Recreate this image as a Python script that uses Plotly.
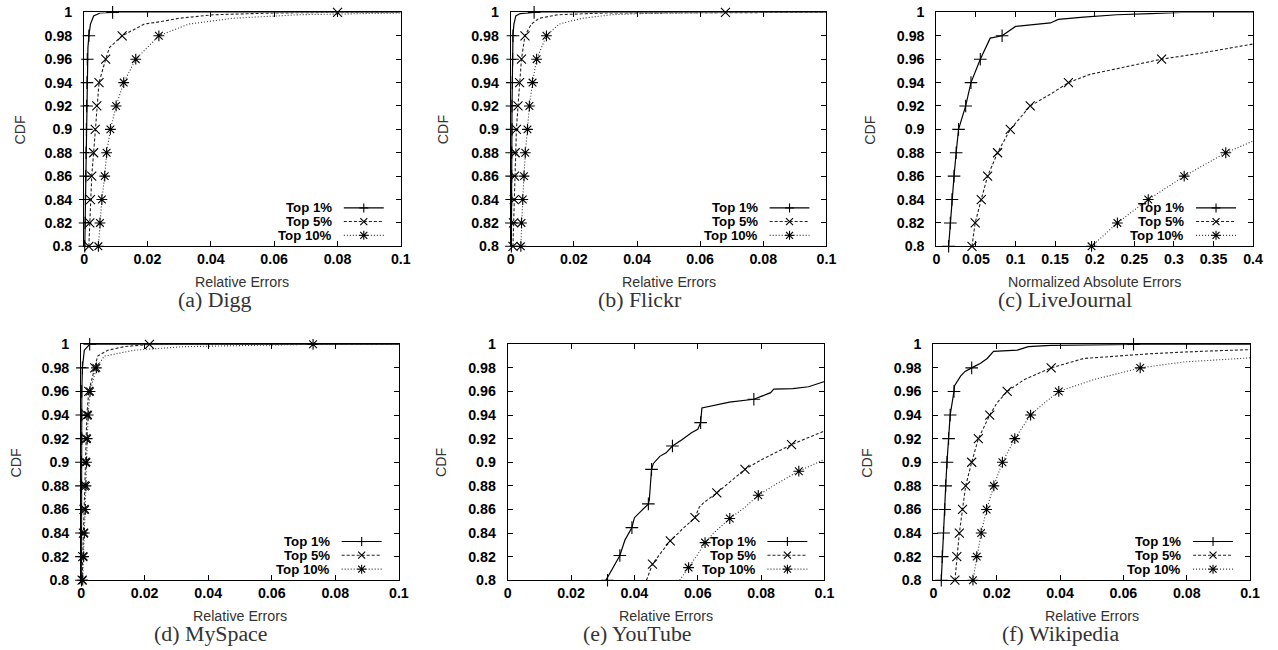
import plotly.graph_objects as go

# ---------------- data ----------------
cdf_levels = [0.8, 0.82, 0.84, 0.86, 0.88, 0.9, 0.92, 0.94, 0.96, 0.98]
y_ticks = [0.8, 0.82, 0.84, 0.86, 0.88, 0.9, 0.92, 0.94, 0.96, 0.98, 1.0]
y_tick_text = ["0.8", "0.82", "0.84", "0.86", "0.88", "0.9", "0.92", "0.94", "0.96", "0.98", "1"]
x_ticks_small = [0, 0.02, 0.04, 0.06, 0.08, 0.1]
x_tick_text_small = ["0", "0.02", "0.04", "0.06", "0.08", "0.1"]
x_ticks_lj = [0, 0.05, 0.1, 0.15, 0.2, 0.25, 0.3, 0.35, 0.4]
x_tick_text_lj = ["0", "0.05", "0.1", "0.15", "0.2", "0.25", "0.3", "0.35", "0.4"]
series_names = ["Top 1%", "Top 5%", "Top 10%"]

# (a) Digg
digg_1_x = [0.0002, 0.0003, 0.0004, 0.0005, 0.0006, 0.0007, 0.0008, 0.0009, 0.001, 0.0012, 0.0015, 0.002, 0.003, 0.005, 0.009, 0.1]
digg_1_y = [0.8, 0.82, 0.84, 0.86, 0.88, 0.9, 0.92, 0.94, 0.96, 0.97, 0.98, 0.99, 0.997, 0.9995, 1.0, 1.0]
digg_1_mx = [0.0002, 0.0003, 0.0004, 0.0005, 0.0006, 0.0007, 0.0008, 0.0009, 0.001, 0.0015, 0.009]
digg_1_my = [0.8, 0.82, 0.84, 0.86, 0.88, 0.9, 0.92, 0.94, 0.96, 0.98, 1.0]
digg_5_x = [0.0015, 0.0018, 0.002, 0.0024, 0.003, 0.0035, 0.004, 0.0047, 0.0068, 0.008, 0.012, 0.019, 0.024, 0.03, 0.041, 0.06, 0.08, 0.1]
digg_5_y = [0.8, 0.82, 0.84, 0.86, 0.88, 0.9, 0.92, 0.94, 0.96, 0.97, 0.98, 0.99, 0.992, 0.995, 0.998, 0.9995, 1.0, 1.0]
digg_5_mx = [0.0015, 0.0018, 0.002, 0.0024, 0.003, 0.0035, 0.004, 0.0047, 0.0068, 0.012, 0.08]
digg_5_my = [0.8, 0.82, 0.84, 0.86, 0.88, 0.9, 0.92, 0.94, 0.96, 0.98, 1.0]
digg_10_x = [0.0045, 0.005, 0.0056, 0.0065, 0.0071, 0.0083, 0.0101, 0.0125, 0.0163, 0.0236, 0.033, 0.047, 0.068, 0.1]
digg_10_y = [0.8, 0.82, 0.84, 0.86, 0.88, 0.9, 0.92, 0.94, 0.96, 0.98, 0.99, 0.995, 0.998, 0.9995]
digg_10_mx = [0.0045, 0.005, 0.0056, 0.0065, 0.0071, 0.0083, 0.0101, 0.0125, 0.0163, 0.0236]
digg_10_my = cdf_levels

# (b) Flickr
flickr_1_x = [0.0002, 0.0002, 0.0003, 0.0003, 0.0003, 0.0004, 0.0004, 0.0005, 0.0006, 0.0007, 0.001, 0.0016, 0.003, 0.0074, 0.1]
flickr_1_y = [0.8, 0.82, 0.84, 0.86, 0.88, 0.9, 0.92, 0.94, 0.96, 0.98, 0.99, 0.997, 0.999, 1.0, 1.0]
flickr_1_mx = [0.0002, 0.0002, 0.0003, 0.0003, 0.0003, 0.0004, 0.0004, 0.0005, 0.0006, 0.0007, 0.0074]
flickr_1_my = [0.8, 0.82, 0.84, 0.86, 0.88, 0.9, 0.92, 0.94, 0.96, 0.98, 1.0]
flickr_5_x = [0.0007, 0.0009, 0.0011, 0.0012, 0.0014, 0.0018, 0.0023, 0.0028, 0.0034, 0.0045, 0.0065, 0.009, 0.015, 0.03, 0.068, 0.1]
flickr_5_y = [0.8, 0.82, 0.84, 0.86, 0.88, 0.9, 0.92, 0.94, 0.96, 0.98, 0.99, 0.995, 0.998, 0.9995, 1.0, 1.0]
flickr_5_mx = [0.0007, 0.0009, 0.0011, 0.0012, 0.0014, 0.0018, 0.0023, 0.0028, 0.0034, 0.0045, 0.068]
flickr_5_my = [0.8, 0.82, 0.84, 0.86, 0.88, 0.9, 0.92, 0.94, 0.96, 0.98, 1.0]
flickr_10_x = [0.0032, 0.0034, 0.0038, 0.0042, 0.0046, 0.0053, 0.0059, 0.0069, 0.0082, 0.0113, 0.0153, 0.0227, 0.032, 0.042, 0.07, 0.1]
flickr_10_y = [0.8, 0.82, 0.84, 0.86, 0.88, 0.9, 0.92, 0.94, 0.96, 0.98, 0.99, 0.995, 0.998, 0.999, 1.0, 1.0]
flickr_10_mx = [0.0032, 0.0034, 0.0038, 0.0042, 0.0046, 0.0053, 0.0059, 0.0069, 0.0082, 0.0113]
flickr_10_my = cdf_levels

# (c) LiveJournal
lj_1_x = [0.0155, 0.0176, 0.0197, 0.0223, 0.025, 0.028, 0.037, 0.0437, 0.0555, 0.062, 0.068, 0.083, 0.093, 0.1, 0.144, 0.154, 0.186, 0.228, 0.27, 0.31, 0.4]
lj_1_y = [0.8, 0.82, 0.84, 0.86, 0.88, 0.9, 0.92, 0.94, 0.96, 0.97, 0.978, 0.98, 0.985, 0.988, 0.991, 0.994, 0.996, 0.998, 0.999, 1.0, 1.0]
lj_1_mx = [0.0155, 0.0176, 0.0197, 0.0223, 0.025, 0.028, 0.037, 0.0437, 0.0555, 0.083]
lj_1_my = cdf_levels
lj_5_x = [0.045, 0.049, 0.0567, 0.0647, 0.0773, 0.0933, 0.106, 0.1185, 0.144, 0.1668, 0.194, 0.249, 0.2845, 0.333, 0.375, 0.4]
lj_5_y = [0.8, 0.82, 0.84, 0.86, 0.88, 0.9, 0.91, 0.92, 0.93, 0.94, 0.947, 0.955, 0.96, 0.965, 0.97, 0.973]
lj_5_mx = [0.045, 0.049, 0.0567, 0.0647, 0.0773, 0.0933, 0.1185, 0.1668, 0.2845]
lj_5_my = [0.8, 0.82, 0.84, 0.86, 0.88, 0.9, 0.92, 0.94, 0.96]
lj_10_x = [0.196, 0.2286, 0.2676, 0.313, 0.3655, 0.4]
lj_10_y = [0.8, 0.82, 0.84, 0.86, 0.88, 0.89]
lj_10_mx = [0.196, 0.2286, 0.2676, 0.313, 0.3655]
lj_10_my = [0.8, 0.82, 0.84, 0.86, 0.88]

# (d) MySpace
ms_1_x = [0.0001, 0.0001, 0.0001, 0.0001, 0.0001, 0.0001, 0.0002, 0.0002, 0.0002, 0.0004, 0.001, 0.0027, 0.1]
ms_1_y = [0.8, 0.82, 0.84, 0.86, 0.88, 0.9, 0.92, 0.94, 0.96, 0.98, 0.995, 1.0, 1.0]
ms_1_mx = [0.0001, 0.0001, 0.0001, 0.0001, 0.0001, 0.0001, 0.0002, 0.0002, 0.0002, 0.0004, 0.0027]
ms_1_my = [0.8, 0.82, 0.84, 0.86, 0.88, 0.9, 0.92, 0.94, 0.96, 0.98, 1.0]
ms_5_x = [0.0003, 0.0005, 0.0007, 0.0009, 0.001, 0.0013, 0.0015, 0.0018, 0.0024, 0.0043, 0.0052, 0.0084, 0.0136, 0.0215, 0.1]
ms_5_y = [0.8, 0.82, 0.84, 0.86, 0.88, 0.9, 0.92, 0.94, 0.96, 0.98, 0.99, 0.995, 0.998, 1.0, 1.0]
ms_5_mx = [0.0003, 0.0005, 0.0007, 0.0009, 0.001, 0.0013, 0.0015, 0.0018, 0.0024, 0.0043, 0.0215]
ms_5_my = [0.8, 0.82, 0.84, 0.86, 0.88, 0.9, 0.92, 0.94, 0.96, 0.98, 1.0]
ms_10_x = [0.0005, 0.0008, 0.001, 0.0013, 0.0015, 0.0017, 0.0019, 0.0022, 0.0028, 0.0048, 0.0073, 0.0168, 0.0325, 0.073, 0.1]
ms_10_y = [0.8, 0.82, 0.84, 0.86, 0.88, 0.9, 0.92, 0.94, 0.96, 0.98, 0.99, 0.995, 0.998, 1.0, 1.0]
ms_10_mx = [0.0005, 0.0008, 0.001, 0.0013, 0.0015, 0.0017, 0.0019, 0.0022, 0.0028, 0.0048, 0.073]
ms_10_my = [0.8, 0.82, 0.84, 0.86, 0.88, 0.9, 0.92, 0.94, 0.96, 0.98, 1.0]

# (e) YouTube
yt_1_x = [0.031, 0.033, 0.0354, 0.037, 0.0385, 0.0392, 0.04, 0.042, 0.0444, 0.0447, 0.0452, 0.0454, 0.046, 0.048, 0.05, 0.052, 0.055, 0.058, 0.06, 0.0609, 0.0613, 0.065, 0.07, 0.0777, 0.08, 0.083, 0.084, 0.09, 0.095, 0.1]
yt_1_y = [0.8, 0.81, 0.821, 0.834, 0.842, 0.8446, 0.853, 0.858, 0.8647, 0.868, 0.89, 0.894, 0.899, 0.905, 0.908, 0.9138, 0.919, 0.925, 0.928, 0.9336, 0.946, 0.948, 0.951, 0.9534, 0.956, 0.959, 0.962, 0.9625, 0.964, 0.9685]
yt_1_mx = [0.0315, 0.0354, 0.0392, 0.0444, 0.0454, 0.052, 0.0609, 0.0777]
yt_1_my = [0.8, 0.821, 0.8446, 0.8647, 0.894, 0.9138, 0.9336, 0.9534]
yt_5_x = [0.0438, 0.0457, 0.048, 0.0513, 0.055, 0.0591, 0.0605, 0.062, 0.066, 0.07, 0.0725, 0.0749, 0.08, 0.085, 0.0896, 0.095, 0.1]
yt_5_y = [0.8, 0.8136, 0.822, 0.8333, 0.843, 0.8531, 0.862, 0.866, 0.874, 0.883, 0.889, 0.894, 0.902, 0.909, 0.915, 0.921, 0.9265]
yt_5_mx = [0.0457, 0.0513, 0.0591, 0.066, 0.0749, 0.0896]
yt_5_my = [0.8136, 0.8333, 0.8531, 0.874, 0.894, 0.915]
yt_10_x = [0.0543, 0.0571, 0.06, 0.0623, 0.065, 0.0701, 0.075, 0.0791, 0.085, 0.0919, 0.1]
yt_10_y = [0.8, 0.8107, 0.822, 0.8319, 0.84, 0.8523, 0.862, 0.872, 0.882, 0.8924, 0.9025]
yt_10_mx = [0.0571, 0.0623, 0.0701, 0.0791, 0.0919]
yt_10_my = [0.8107, 0.8319, 0.8523, 0.872, 0.8924]

# (f) Wikipedia
wk_1_x = [0.0025, 0.0028, 0.0032, 0.0036, 0.0039, 0.0043, 0.0048, 0.0053, 0.0065, 0.0067, 0.0086, 0.01, 0.0121, 0.0149, 0.017, 0.019, 0.0265, 0.03, 0.037, 0.0632, 0.1]
wk_1_y = [0.8, 0.82, 0.84, 0.86, 0.88, 0.9, 0.92, 0.94, 0.96, 0.965, 0.973, 0.977, 0.98, 0.984, 0.988, 0.994, 0.995, 0.998, 0.999, 1.0, 1.0]
wk_1_mx = [0.0025, 0.0028, 0.0032, 0.0036, 0.0039, 0.0043, 0.0048, 0.0053, 0.0065, 0.0121, 0.0632]
wk_1_my = [0.8, 0.82, 0.84, 0.86, 0.88, 0.9, 0.92, 0.94, 0.96, 0.98, 1.0]
wk_5_x = [0.0068, 0.0074, 0.0082, 0.0092, 0.0102, 0.0121, 0.0142, 0.0178, 0.02, 0.0233, 0.0286, 0.0372, 0.0433, 0.0475, 0.058, 0.0685, 0.084, 0.1]
wk_5_y = [0.8, 0.82, 0.84, 0.86, 0.88, 0.9, 0.92, 0.94, 0.95, 0.96, 0.97, 0.98, 0.985, 0.988, 0.99, 0.992, 0.994, 0.9955]
wk_5_mx = [0.0068, 0.0074, 0.0082, 0.0092, 0.0102, 0.0121, 0.0142, 0.0178, 0.0233, 0.0372]
wk_5_my = cdf_levels
wk_10_x = [0.0125, 0.0137, 0.0151, 0.0168, 0.0191, 0.0218, 0.0257, 0.0307, 0.0349, 0.0396, 0.0506, 0.0653, 0.079, 0.1]
wk_10_y = [0.8, 0.82, 0.84, 0.86, 0.88, 0.9, 0.92, 0.94, 0.95, 0.96, 0.97, 0.98, 0.985, 0.9885]
wk_10_mx = [0.0125, 0.0137, 0.0151, 0.0168, 0.0191, 0.0218, 0.0257, 0.0307, 0.0396, 0.0653]
wk_10_my = cdf_levels

captions = ["(a) Digg", "(b) Flickr", "(c) LiveJournal", "(d) MySpace", "(e) YouTube", "(f) Wikipedia"]
x_titles = ["Relative Errors", "Relative Errors", "Normalized Absolute Errors",
            "Relative Errors", "Relative Errors", "Relative Errors"]
y_title = "CDF"

panels = [
    [(digg_1_x, digg_1_y, digg_1_mx, digg_1_my), (digg_5_x, digg_5_y, digg_5_mx, digg_5_my), (digg_10_x, digg_10_y, digg_10_mx, digg_10_my)],
    [(flickr_1_x, flickr_1_y, flickr_1_mx, flickr_1_my), (flickr_5_x, flickr_5_y, flickr_5_mx, flickr_5_my), (flickr_10_x, flickr_10_y, flickr_10_mx, flickr_10_my)],
    [(lj_1_x, lj_1_y, lj_1_mx, lj_1_my), (lj_5_x, lj_5_y, lj_5_mx, lj_5_my), (lj_10_x, lj_10_y, lj_10_mx, lj_10_my)],
    [(ms_1_x, ms_1_y, ms_1_mx, ms_1_my), (ms_5_x, ms_5_y, ms_5_mx, ms_5_my), (ms_10_x, ms_10_y, ms_10_mx, ms_10_my)],
    [(yt_1_x, yt_1_y, yt_1_mx, yt_1_my), (yt_5_x, yt_5_y, yt_5_mx, yt_5_my), (yt_10_x, yt_10_y, yt_10_mx, yt_10_my)],
    [(wk_1_x, wk_1_y, wk_1_mx, wk_1_my), (wk_5_x, wk_5_y, wk_5_mx, wk_5_my), (wk_10_x, wk_10_y, wk_10_mx, wk_10_my)],
]

# ---------------- layout / style ----------------
# The photographed page shows the figure offset by the page margin and slightly
# scaled; target positions (in final-picture pixels) are mapped to figure pixels.
W, H = 1286, 658
SX, OX = 0.99, 2.8
SY, OY = 0.976, 7.6


def fig_x(T):
    return (T - OX) / SX


def fig_y(T):
    return (T - OY) / SY


def px(T):
    return fig_x(T) / W


def py(T):
    return 1 - fig_y(T) / H


FS = 1.0 / 0.983  # font compensation

# plot areas in target pixels: (left, right, top, bottom)
boxes = [(83, 400, 12, 246), (510, 826, 12, 246), (936, 1253, 12, 246),
         (80, 398, 344, 580), (507, 824, 344, 580), (933, 1250, 344, 580)]
caption_cx = [214, 639, 1065, 210, 637, 1060]
cdf_label_x = [19, 443, 870, 15, 440, 867]

line_styles = [dict(color="#000000", width=1.2, dash="solid"),
               dict(color="#222222", width=1.1, dash="3px,2px"),
               dict(color="#333333", width=1.1, dash="1px,2px")]
marker_symbols = ["cross-thin", "x-thin", "asterisk"]
marker_sizes = [9, 9, 9]

TICK_FONT = dict(family="Liberation Sans, Arial, sans-serif", size=14 * FS, color="#000000", weight="bold")
KEY_FONT = dict(family="Liberation Sans, Arial, sans-serif", size=13 * FS, color="#000000", weight="bold")
LABEL_FONT = dict(family="Liberation Sans, Arial, sans-serif", size=14 * FS, color="#333333")
CAP_FONT = dict(family="Liberation Serif, Times New Roman, serif", size=21.5 * FS, color="#333333")

fig = go.Figure()
layout = dict(width=W, height=H, autosize=False, margin=dict(l=0, r=0, t=0, b=0, pad=0),
              paper_bgcolor="white", plot_bgcolor="white", showlegend=False)
annotations = []
shapes = []

for i, (box, series) in enumerate(zip(boxes, panels)):
    left, right, top, bottom = box
    n = "" if i == 0 else str(i + 1)
    xa, ya = "x" + n, "y" + n
    is_lj = (i == 2)
    xr = [0, 0.4] if is_lj else [0, 0.1]
    xt = x_ticks_lj if is_lj else x_ticks_small
    xtt = x_tick_text_lj if is_lj else x_tick_text_small

    layout["xaxis" + n] = dict(domain=[px(left), px(right)], range=xr, anchor=ya,
                               tickvals=xt, ticktext=xtt, ticks="inside", ticklen=5,
                               tickcolor="#000", showline=True, linecolor="#000", linewidth=1,
                               mirror="ticks", showgrid=False, zeroline=False,
                               tickfont=TICK_FONT, ticklabelstandoff=0, fixedrange=True)
    layout["yaxis" + n] = dict(domain=[py(bottom), py(top)], range=[0.8, 1.0], anchor=xa,
                               tickvals=y_ticks, ticktext=y_tick_text, ticks="inside", ticklen=5,
                               tickcolor="#000", showline=True, linecolor="#000", linewidth=1,
                               mirror="ticks", showgrid=False, zeroline=False,
                               tickfont=TICK_FONT, ticklabelstandoff=8, fixedrange=True)

    for k, (lx, ly, mx, my) in enumerate(series):
        fig.add_trace(go.Scatter(x=lx, y=ly, mode="lines", line=line_styles[k], xaxis=xa, yaxis=ya,
                                 name=series_names[k], hoverinfo="skip", cliponaxis=True))
        fig.add_trace(go.Scatter(x=mx, y=my, mode="markers", xaxis=xa, yaxis=ya, name=series_names[k],
                                 marker=dict(symbol=marker_symbols[k], size=marker_sizes[k], color="#000",
                                             line=dict(color="#000", width=1.1)),
                                 hoverinfo="skip", cliponaxis=False))

    # in-plot key (gnuplot style: label, then sample line with symbol)
    key_rows = [0.164, 0.106, 0.047]
    for k in range(3):
        annotations.append(dict(text=series_names[k], xref=xa + " domain", yref=ya + " domain",
                                x=0.789, y=key_rows[k], xanchor="right", yanchor="middle",
                                showarrow=False, font=KEY_FONT))
        st = line_styles[k]
        shapes.append(dict(type="line", xref=xa + " domain", yref=ya + " domain",
                           x0=0.82, x1=0.946, y0=key_rows[k], y1=key_rows[k],
                           line=dict(color=st["color"], width=st["width"], dash=st["dash"])))
        cx = 0.883
        strokes = []
        if k in (0, 2):
            strokes += [(-4.5, 0, 4.5, 0), (0, -4.5, 0, 4.5)]
        if k in (1, 2):
            strokes += [(-3.5, -3.5, 3.5, 3.5), (-3.5, 3.5, 3.5, -3.5)]
        for (a0, b0, a1, b1) in strokes:
            shapes.append(dict(type="line", xref=xa + " domain", yref=ya + " domain",
                               xsizemode="pixel", ysizemode="pixel",
                               xanchor=cx, yanchor=key_rows[k],
                               x0=a0, x1=a1, y0=b0, y1=b1,
                               line=dict(color="#000", width=1.1)))

    # axis titles and captions
    cx_plot = (left + right) / 2
    annotations.append(dict(text=x_titles[i], xref="paper", yref="paper", x=px(cx_plot),
                            y=py(bottom + 36), xanchor="center", yanchor="middle",
                            showarrow=False, font=LABEL_FONT))
    annotations.append(dict(text=y_title, xref="paper", yref="paper", x=px(cdf_label_x[i]),
                            y=py((top + bottom) / 2), xanchor="center", yanchor="middle",
                            textangle=-90, showarrow=False, font=LABEL_FONT))
    annotations.append(dict(text=captions[i], xref="paper", yref="paper", x=px(caption_cx[i]),
                            y=py(bottom + 54), xanchor="center", yanchor="middle",
                            showarrow=False, font=CAP_FONT))

layout["annotations"] = annotations
layout["shapes"] = shapes
fig.update_layout(**layout)
fig.write_html("out.html", include_plotlyjs=True, config={"displayModeBar": False})
